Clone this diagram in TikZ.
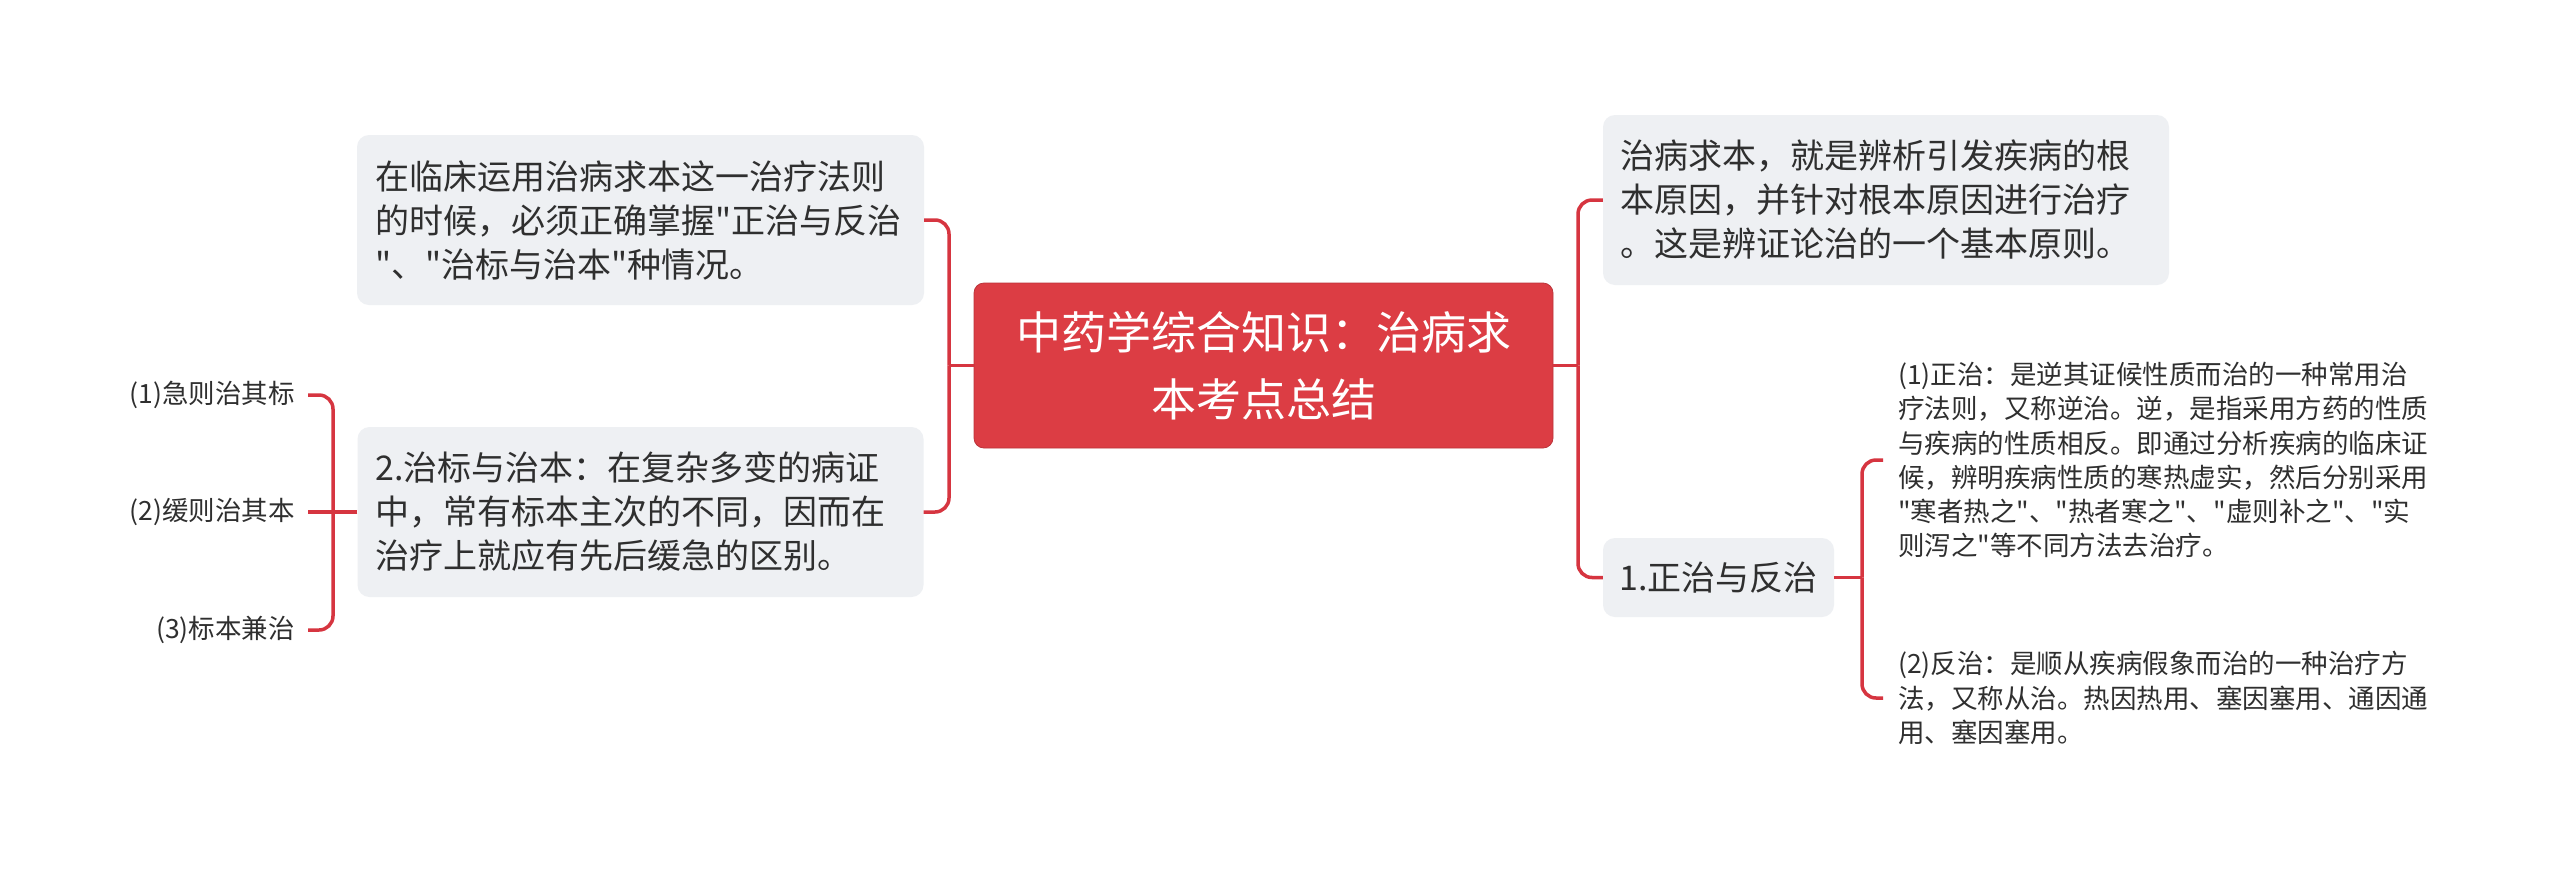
\documentclass[tikz,border=0pt]{standalone}
\usepackage{fontspec}
\setmainfont{Noto Sans CJK SC}[Ligatures=TeXOff]
\definecolor{rootred}{HTML}{DC3D44}
\definecolor{linered}{HTML}{D63540}
\definecolor{boxgray}{HTML}{EEF0F3}
\definecolor{txt}{HTML}{2F2F2F}
\begin{document}
\begin{tikzpicture}[x=1pt,y=-1pt,
  conn/.style={draw=linered,line width=3.5pt,rounded corners=14pt},
  rootbox/.style={fill=rootred,draw=rootred!85!black,line width=0.8pt,rounded corners=10pt,text=white,align=center,
    font=\fontsize{45}{67}\selectfont,minimum width=579pt,minimum height=165pt,inner sep=0pt},
  topic/.style={fill=boxgray,rounded corners=12pt,text=txt,align=left,
    font=\fontsize{34}{44}\selectfont,inner sep=0pt},
  leaf/.style={text=txt,align=left,font=\fontsize{26.5}{34.2}\selectfont,inner xsep=13pt,inner ysep=2pt}
]
\useasboundingbox (0,0) rectangle (2560,876);
\fill[white] (0,0) rectangle (2560,876);

% root
\node[rootbox] (root) at (1263.5,365.5) {中药学综合知识：治病求\\本考点总结};

% left topics
\node[topic,minimum width=567pt,minimum height=170pt,text width=531pt] (L1) at (640.5,220)
  {在临床运用治病求本这一治疗法则\\的时候，必须正确掌握"正治与反治\\"、"治标与治本"种情况。};
\node[topic,minimum width=566pt,minimum height=170pt,text width=530pt] (L2) at (640.5,512)
  {2.治标与治本：在复杂多变的病证\\中，常有标本主次的不同，因而在\\治疗上就应有先后缓急的区别。};

% right topics
\node[topic,minimum width=566pt,minimum height=170pt,text width=532pt] (R1) at (1886,200)
  {治病求本，就是辨析引发疾病的根\\本原因，并针对根本原因进行治疗\\。这是辨证论治的一个基本原则。};
\node[topic,minimum width=231pt,minimum height=79pt,align=center] (R2) at (1718.5,577.5)
  {1.正治与反治};

% right leaves
\node[leaf,anchor=west,text width=545pt,inner xsep=15pt] (RL1) at (1883,460)
  {(1)正治：是逆其证候性质而治的一种常用治\\疗法则，又称逆治。逆，是指采用方药的性质\\与疾病的性质相反。即通过分析疾病的临床证\\候，辨明疾病性质的寒热虚实，然后分别采用\\"寒者热之"、"热者寒之"、"虚则补之"、"实\\则泻之"等不同方法去治疗。};
\node[leaf,anchor=west,text width=545pt,inner xsep=15pt] (RL2) at (1883,698)
  {(2)反治：是顺从疾病假象而治的一种治疗方\\法，又称从治。热因热用、塞因塞用、通因通\\用、塞因塞用。};

% left leaves
\node[leaf,anchor=east] (LL1) at (308,395) {(1)急则治其标};
\node[leaf,anchor=east] (LL2) at (308,512) {(2)缓则治其本};
\node[leaf,anchor=east] (LL3) at (308,630) {(3)标本兼治};

% junction points
\coordinate (lt) at (949,365.5);
\coordinate (rt) at (1578,365.5);
\coordinate (rb) at (1862,577.5);
\coordinate (lb) at (333,512);

% connectors
\draw[conn] (root.west) -- (lt);
\draw[conn] (lt) |- (L1.east);
\draw[conn] (lt) |- (L2.east);
\draw[conn] (root.east) -- (rt);
\draw[conn] (rt) |- (R1.west);
\draw[conn] (rt) |- (R2.west);
\draw[conn] (R2.east) -- (rb);
\draw[conn] (rb) |- (RL1.west);
\draw[conn] (rb) |- (RL2.west);
\draw[conn] (L2.west) -- (lb);
\draw[conn] (lb) |- (LL1.east);
\draw[conn] (lb) |- (LL3.east);
\draw[conn] (lb) -- (LL2.east);
\end{tikzpicture}
\end{document}
